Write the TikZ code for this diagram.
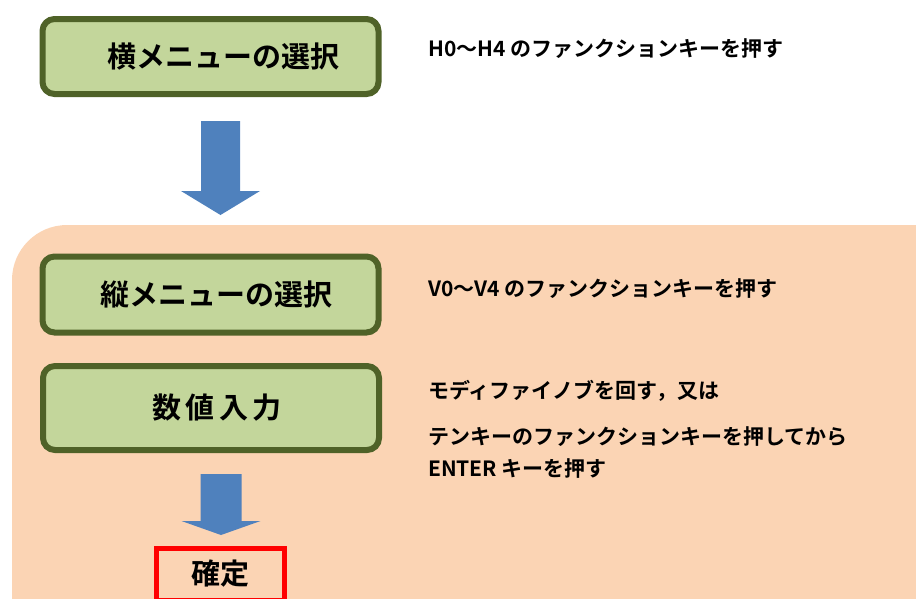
\documentclass[tikz,border=0pt]{standalone}
\usepackage{fontspec}
\usetikzlibrary{calc}
\setmainfont{Noto Sans CJK JP}[BoldFont={Noto Sans CJK JP Bold}]
\definecolor{boxgreen}{HTML}{C3D69B}
\definecolor{boxolive}{HTML}{4F6228}
\definecolor{arrowblue}{HTML}{4F81BD}
\definecolor{areaorange}{HTML}{FBD4B4}
\begin{document}
\begin{tikzpicture}[x=1pt,y=-1pt]
\tikzstyle{every node}+=[inner sep=0pt]
\tikzstyle{menubox}=[draw=boxolive, line width=6pt, fill=boxgreen, rounded corners=12pt, minimum width=336pt, font=\fontsize{29}{32}\selectfont\bfseries]
\tikzstyle{note}=[anchor=west, font=\fontsize{21}{24}\selectfont\bfseries]
\tikzstyle{blockarrow}=[fill=arrowblue]
\useasboundingbox (0,0) rectangle (916,598);
% orange area
\begin{scope}
\clip (0,0) rectangle (916,598);
\fill [areaorange, rounded corners=55pt] (12,225) rectangle (975,652);
\end{scope}
% menu boxes
\node [menubox, minimum height=75pt] (hmenu) at (210.5,56.5) {\hspace*{26pt}横メニューの選択};
\node [menubox, minimum height=76pt] (vmenu) at (210.5,294.5) {\hspace*{12pt}縦メニューの選択};
\node [menubox, minimum height=84pt] (input) at (211,408) {\hspace*{12pt}\addfontfeature{LetterSpace=16}数値入力};
\node [draw=red, line width=5pt, minimum width=128pt, minimum height=52pt, font=\fontsize{29}{32}\selectfont\bfseries] (enter) at (220.5,574) {確定};
% arrows
\fill [blockarrow] ($(hmenu.south)+(-9.5,24)$) -- ++(39,0) -- ++(0,70) -- ++(20,0) -- ++(-39.5,24) -- ++(-39.5,-24) -- ++(20,0) -- cycle;
\fill [blockarrow] ($(input.south)+(-10.5,21)$) -- ++(41,0) -- ++(0,47) -- ++(19,0) -- ++(-39.5,14) -- ++(-39.5,-14) -- ++(19,0) -- cycle;
% notes
\node [note] (hnote) at (428,49) {H0～H4 のファンクションキーを押す};
\node [note] (vnote) at (428,289) {V0～V4 のファンクションキーを押す};
\node [note] (inote1) at (428,391) {モディファイノブを回す，又は};
\node [note] (inote2) at (428,437) {テンキーのファンクションキーを押してから};
\node [note] (inote3) at (428,469) {ENTER キーを押す};
\end{tikzpicture}
\end{document}
